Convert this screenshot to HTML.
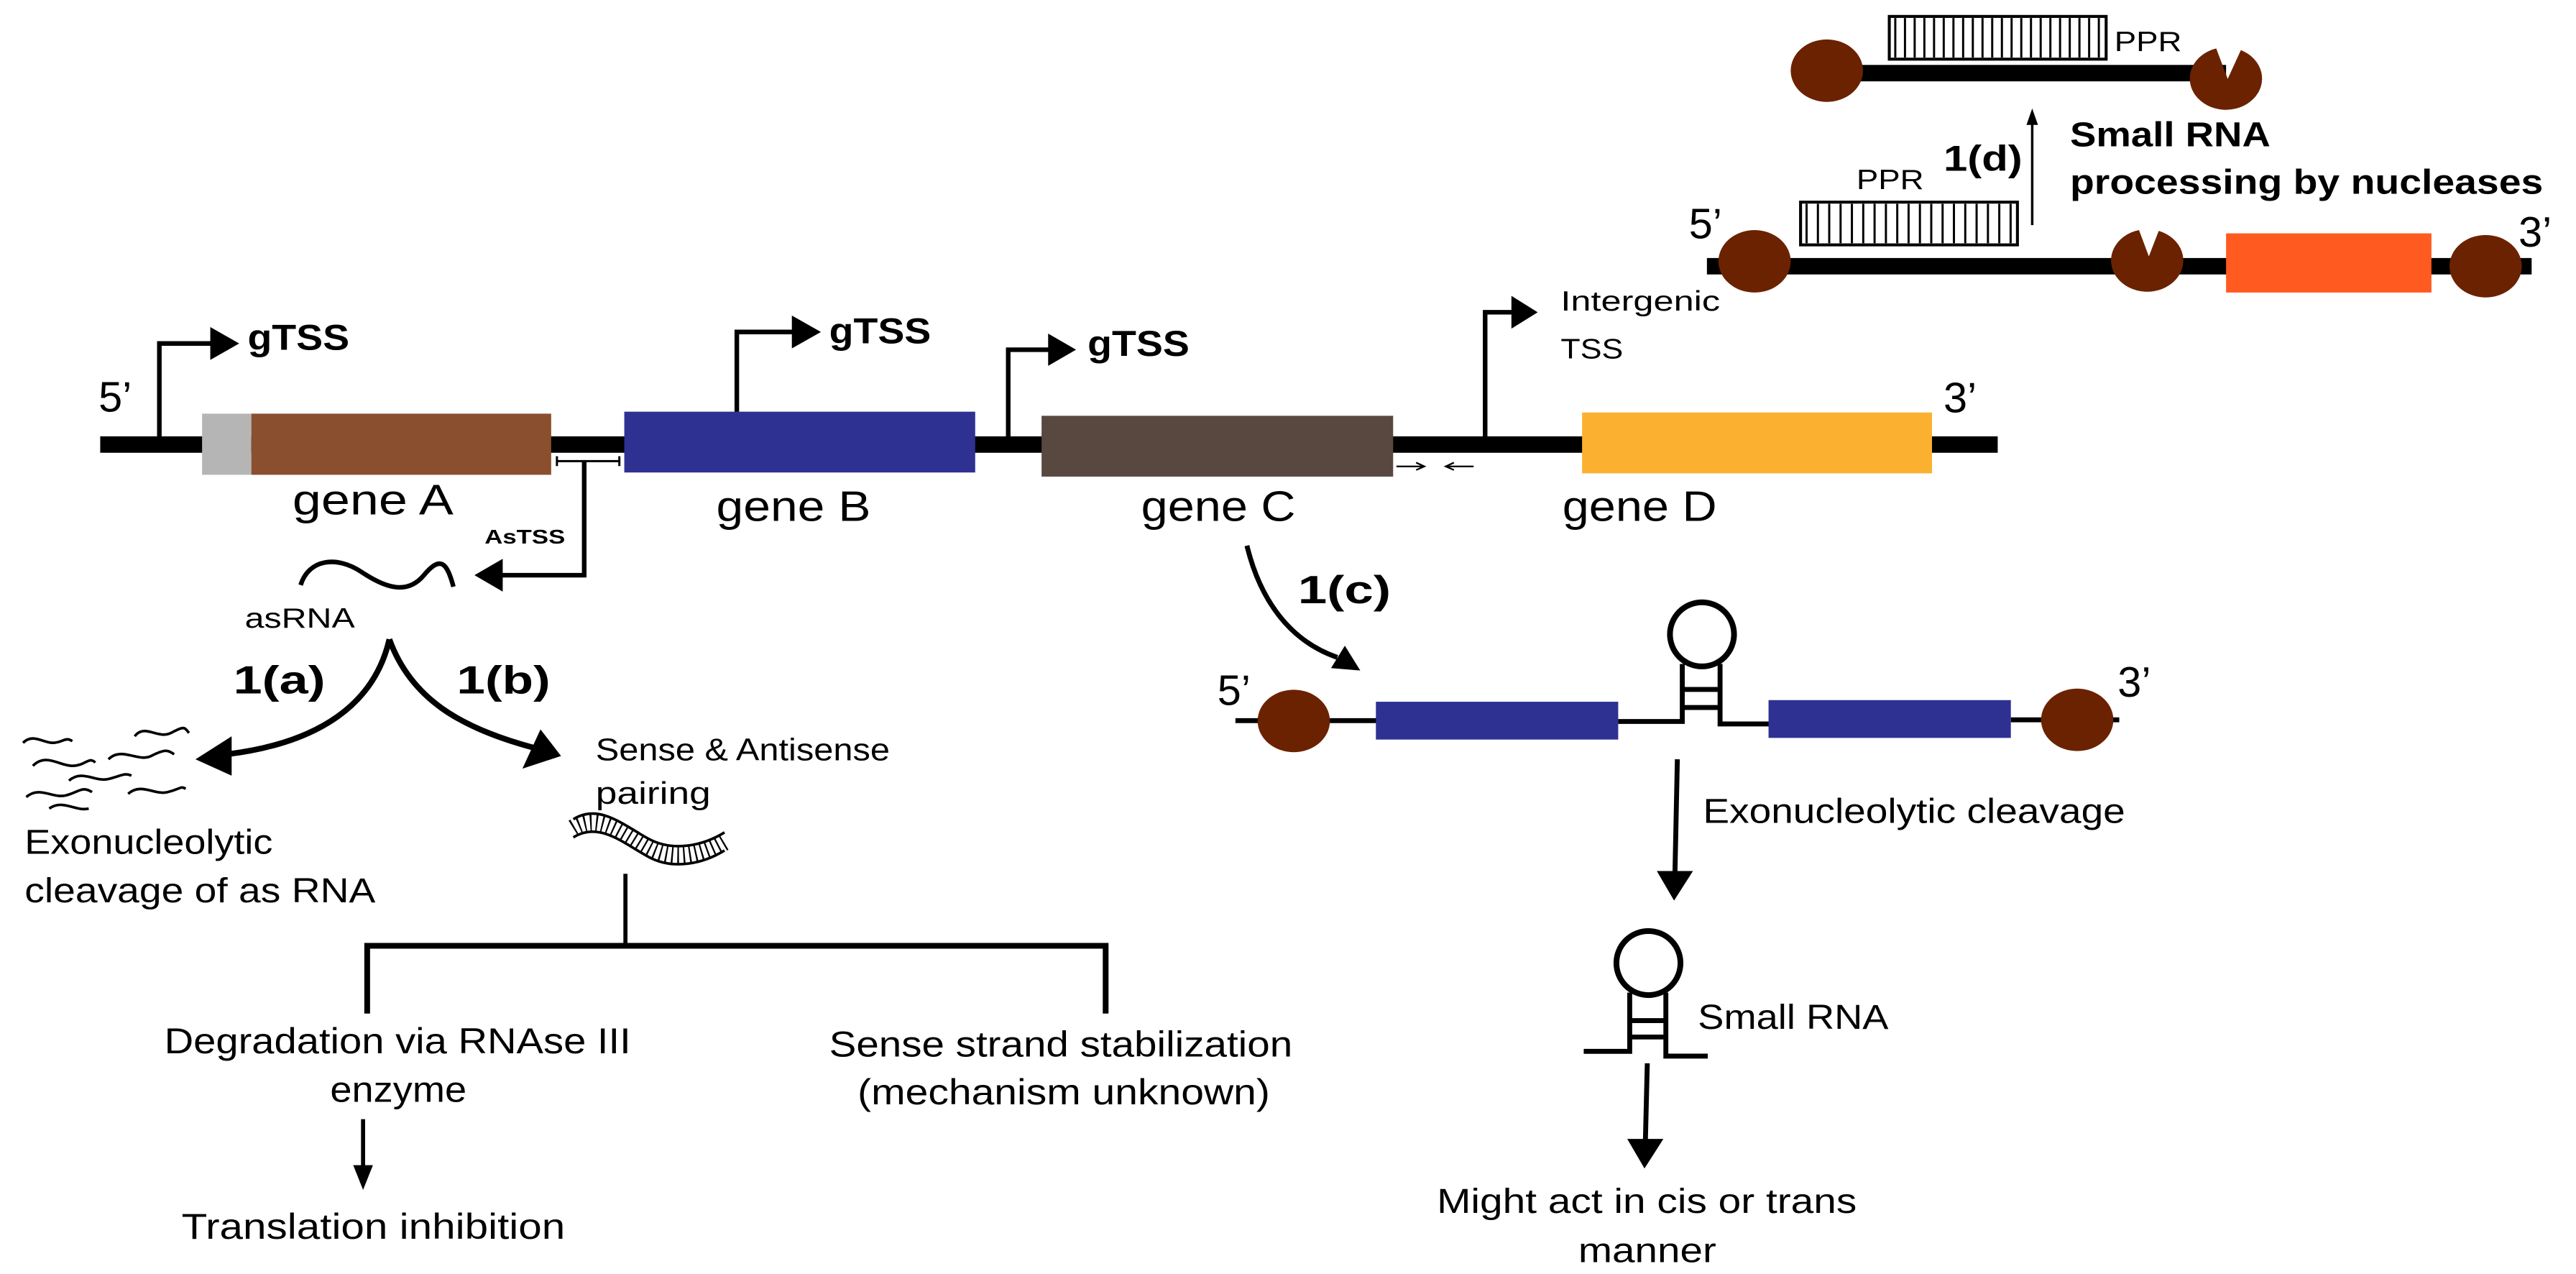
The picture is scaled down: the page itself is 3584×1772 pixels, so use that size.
<!DOCTYPE html>
<html><head><meta charset="utf-8"><style>
html,body{margin:0;padding:0;background:#fff;}
svg{display:block;}
text{font-family:"Liberation Sans",sans-serif;fill:#000;}
.b{font-weight:bold;}
</style></head><body>
<svg width="3584" height="1772" viewBox="0 0 1568 775.2" preserveAspectRatio="none" xmlns="http://www.w3.org/2000/svg">
<rect width="1568" height="775.2" fill="#fff"/>
<!-- main line -->
<rect x="61" y="265.5" width="1155" height="10" fill="#000"/>
<rect x="123" y="251.7" width="30" height="37.2" fill="#b5b5b5"/>
<rect x="153" y="251.7" width="182.5" height="37.2" fill="#8a4f2e"/>
<rect x="380" y="250.5" width="213.6" height="37" fill="#2e3192"/>
<rect x="634" y="253" width="214" height="37" fill="#594840"/>
<rect x="963" y="251" width="213" height="37" fill="#fbb12f"/>
<!-- gTSS arrows -->
<g fill="none" stroke="#000" stroke-width="2.8">
<polyline points="97,270 97,209 130,209"/>
<polyline points="448.5,250.5 448.5,202 484,202"/>
<polyline points="613.7,270 613.7,212.8 640,212.8"/>
<polyline points="904,270 904,190 922,190"/>
</g>
<polygon points="128,199 145.6,209 128,219" fill="#000"/>
<polygon points="482,192 499.7,202 482,212" fill="#000"/>
<polygon points="638,203 655,212.8 638,222.6" fill="#000"/>
<polygon points="920,180 936,190 920,200" fill="#000"/>
<text class="b" x="150.7" y="212.8" font-size="22" textLength="62" lengthAdjust="spacingAndGlyphs">gTSS</text>
<text class="b" x="504.7" y="209" font-size="22" textLength="62" lengthAdjust="spacingAndGlyphs">gTSS</text>
<text class="b" x="662" y="216.5" font-size="22" textLength="62" lengthAdjust="spacingAndGlyphs">gTSS</text>
<text x="950" y="189" font-size="17" textLength="97" lengthAdjust="spacingAndGlyphs">Intergenic</text>
<text x="950" y="218" font-size="17" textLength="38" lengthAdjust="spacingAndGlyphs">TSS</text>
<text x="60" y="250.5" font-size="26">5’</text>
<text x="1183" y="251" font-size="26">3’</text>
<text x="178" y="313" font-size="26" textLength="98" lengthAdjust="spacingAndGlyphs">gene A</text>
<text x="436" y="317" font-size="26" textLength="94" lengthAdjust="spacingAndGlyphs">gene B</text>
<text x="694.6" y="317" font-size="26" textLength="94" lengthAdjust="spacingAndGlyphs">gene C</text>
<text x="951" y="317" font-size="26" textLength="94" lengthAdjust="spacingAndGlyphs">gene D</text>
<!-- small arrows -->
<g stroke="#000" stroke-width="1" fill="none">
<line x1="850" y1="283.8" x2="866" y2="283.8"/><polyline points="862,281.5 867,283.8 862,286"/>
<line x1="881" y1="283.8" x2="897" y2="283.8"/><polyline points="885,281.5 880,283.8 885,286"/>
</g>
<!-- AsTSS -->
<g stroke="#000" fill="none">
<line x1="339" y1="280.6" x2="377" y2="280.6" stroke-width="1.3"/>
<line x1="339" y1="277.6" x2="339" y2="283.6" stroke-width="1.3"/>
<line x1="377" y1="277.6" x2="377" y2="283.6" stroke-width="1.3"/>
<polyline points="355.6,280.6 355.6,350 304,350" stroke-width="2.8"/>
</g>
<polygon points="306,340 288.8,350 306,360" fill="#000"/>
<text class="b" x="295" y="330.8" font-size="12" textLength="49" lengthAdjust="spacingAndGlyphs">AsTSS</text>
<path d="M183,356 C188,340 205,338 220,348 S248,362 258,350 S272,342 276,357" fill="none" stroke="#000" stroke-width="2.8"/>
<text x="149" y="382" font-size="17" textLength="67" lengthAdjust="spacingAndGlyphs">asRNA</text>
<!-- 1a 1b -->
<path d="M237,389 C228,428 195,452 138,459" fill="none" stroke="#000" stroke-width="3.5"/>
<polygon points="119,462 141,448 141,472" fill="#000"/>
<path d="M237,389 C250,425 280,443 325,455" fill="none" stroke="#000" stroke-width="3.5"/>
<polygon points="341.5,460 329,443.8 318,467.7" fill="#000"/>
<text class="b" x="142" y="422" font-size="24" textLength="56" lengthAdjust="spacingAndGlyphs">1(a)</text>
<text class="b" x="278" y="422" font-size="24" textLength="57" lengthAdjust="spacingAndGlyphs">1(b)</text>
<!-- degraded squiggles -->
<g fill="none" stroke="#000" stroke-width="1.6">
<path d="M14,452 C20,446 26,452 32,452 S40,448 44,451"/>
<path d="M20,466 C28,458 36,466 44,466 S54,460 58,464"/>
<path d="M16,485 C24,478 32,486 40,484 S50,478 56,482"/>
<path d="M82,448 C88,440 96,450 104,446 S112,442 115,446"/>
<path d="M66,462 C74,454 84,464 92,460 S102,456 106,459"/>
<path d="M42,475 C50,468 58,476 66,474 S76,470 80,472"/>
<path d="M78,483 C86,476 94,484 102,482 S110,478 113,480"/>
<path d="M30,492 C38,486 46,494 54,492"/>
</g>
<text x="15" y="519.6" font-size="21" textLength="151" lengthAdjust="spacingAndGlyphs">Exonucleolytic</text>
<text x="15" y="549" font-size="21" textLength="213.5" lengthAdjust="spacingAndGlyphs">cleavage of as RNA</text>
<text x="362.6" y="462.6" font-size="19" textLength="179" lengthAdjust="spacingAndGlyphs">Sense &amp; Antisense</text>
<text x="362.6" y="489" font-size="19" textLength="70" lengthAdjust="spacingAndGlyphs">pairing</text>
<!-- ladder -->
<path d="M349,504 C365,494 380,508 395,516 S428,520 441,512" fill="none" stroke="#000" stroke-width="11" stroke-dasharray="1 2.6"/>
<path d="M349,498.5 C365,488.5 380,502.5 395,510.5 S428,514.5 441,506.5" fill="none" stroke="#000" stroke-width="1.6"/>
<path d="M349,509.5 C365,499.5 380,513.5 395,521.5 S428,525.5 441,517.5" fill="none" stroke="#000" stroke-width="1.6"/>
<!-- tree -->
<g fill="none" stroke="#000">
<line x1="380.7" y1="531.7" x2="380.7" y2="575" stroke-width="2.5"/>
<polyline points="223.5,616.7 223.5,575.5 673,575.5 673,616.7" stroke-width="3.5"/>
<line x1="221" y1="681" x2="221" y2="712" stroke-width="2.5"/>
</g>
<polygon points="215,709 227,709 221,724" fill="#000"/>
<text x="100" y="641" font-size="22" textLength="284" lengthAdjust="spacingAndGlyphs">Degradation via RNAse III</text>
<text x="201" y="670.5" font-size="22" textLength="83" lengthAdjust="spacingAndGlyphs">enzyme</text>
<text x="110.5" y="753.8" font-size="22" textLength="233.5" lengthAdjust="spacingAndGlyphs">Translation inhibition</text>
<text x="504.7" y="642.8" font-size="22" textLength="282" lengthAdjust="spacingAndGlyphs">Sense strand stabilization</text>
<text x="522" y="672" font-size="22" textLength="251" lengthAdjust="spacingAndGlyphs">(mechanism unknown)</text>
<!-- 1(c) -->
<path d="M759,332 C767,365 785,390 814,400" fill="none" stroke="#000" stroke-width="3"/>
<polygon points="828,408 810.2,406.5 818.6,392.9" fill="#000"/>
<text class="b" x="790" y="367" font-size="24" textLength="56.6" lengthAdjust="spacingAndGlyphs">1(c)</text>
<!-- RNA 2 -->
<g fill="none" stroke="#000" stroke-width="3">
<line x1="752" y1="438.5" x2="838" y2="438.5"/>
<polyline points="985,439 1024,439 1024,404"/>
<polyline points="1047,404 1047,440.5 1077,440.5"/>
<line x1="1224" y1="438" x2="1290" y2="438"/>
<circle cx="1036" cy="386" r="19.5" stroke-width="3.5"/>
<line x1="1024" y1="419.5" x2="1047" y2="419.5"/>
<line x1="1024" y1="430.5" x2="1047" y2="430.5"/>
</g>
<rect x="837.5" y="427" width="147.5" height="23" fill="#2e3192"/>
<rect x="1076.5" y="426" width="147.5" height="23" fill="#2e3192"/>
<ellipse cx="787.5" cy="438.7" rx="22" ry="19" fill="#6b2200"/>
<ellipse cx="1264.4" cy="438" rx="22" ry="19" fill="#6b2200"/>
<text x="741" y="429" font-size="26">5’</text>
<text x="1289" y="424" font-size="26">3’</text>
<line x1="1021" y1="462" x2="1019.5" y2="533" stroke="#000" stroke-width="3"/>
<polygon points="1008.5,530 1030.5,530 1019,548" fill="#000"/>
<text x="1036.6" y="500.6" font-size="21" textLength="257" lengthAdjust="spacingAndGlyphs">Exonucleolytic cleavage</text>
<!-- small RNA -->
<g fill="none" stroke="#000" stroke-width="3">
<circle cx="1003.4" cy="586" r="19.5" stroke-width="3.5"/>
<polyline points="964,639.7 992,639.7 992,604"/>
<polyline points="1014,604 1014,642.6 1039.5,642.6"/>
<line x1="992" y1="621" x2="1014" y2="621"/>
<line x1="992" y1="631" x2="1014" y2="631"/>
<line x1="1002.7" y1="647" x2="1001.5" y2="696"/>
</g>
<polygon points="990.5,693 1012.5,693 1001,711" fill="#000"/>
<text x="1033.5" y="626" font-size="21" textLength="116" lengthAdjust="spacingAndGlyphs">Small RNA</text>
<text x="874.6" y="738" font-size="21" textLength="255.6" lengthAdjust="spacingAndGlyphs">Might act in cis or trans</text>
<text x="1002.7" y="768" font-size="21" text-anchor="middle" textLength="84" lengthAdjust="spacingAndGlyphs">manner</text>
<!-- top right: middle molecule -->
<rect x="1039" y="157" width="502" height="10" fill="#000"/>
<rect x="1355" y="142" width="125" height="36" fill="#ff5a1f"/>
<ellipse cx="1068" cy="159" rx="22" ry="19" fill="#6b2200"/>
<ellipse cx="1513" cy="162" rx="22" ry="19" fill="#6b2200"/>
<path d="M1302,140 L1308,156 L1314,140.5 A22,19 0 1 1 1302,140 Z" fill="#6b2200"/>
<text x="1028" y="145" font-size="26">5’</text>
<text x="1533" y="150" font-size="26">3’</text>
<rect x="1096" y="123" width="132" height="26" fill="#fff" stroke="#000" stroke-width="1.8"/>
<line x1="1099" y1="136" x2="1226" y2="136" stroke="#000" stroke-width="24" stroke-dasharray="1.3 5.6"/>
<text x="1130" y="115" font-size="17" textLength="41" lengthAdjust="spacingAndGlyphs">PPR</text>
<line x1="1237" y1="137" x2="1237" y2="74" stroke="#000" stroke-width="1.5"/>
<polygon points="1233.5,76 1240.5,76 1237,66" fill="#000"/>
<text class="b" x="1183" y="104" font-size="22" textLength="48" lengthAdjust="spacingAndGlyphs">1(d)</text>
<text class="b" x="1260" y="89" font-size="21" textLength="122" lengthAdjust="spacingAndGlyphs">Small RNA</text>
<text class="b" x="1260" y="118" font-size="21" textLength="288" lengthAdjust="spacingAndGlyphs">processing by nucleases</text>
<!-- top molecule -->
<rect x="1112" y="39.5" width="243" height="10" fill="#000"/>
<ellipse cx="1112" cy="43" rx="22" ry="19" fill="#6b2200"/>
<path d="M1349,29.5 L1356,48 L1364,30.5 A22,19 0 1 1 1349,29.5 Z" fill="#6b2200"/>
<rect x="1150" y="10" width="132" height="26" fill="#fff" stroke="#000" stroke-width="1.8"/>
<line x1="1153" y1="23" x2="1280" y2="23" stroke="#000" stroke-width="24" stroke-dasharray="1.3 4.6"/>
<text x="1287" y="31" font-size="17" textLength="41" lengthAdjust="spacingAndGlyphs">PPR</text>
</svg>
</body></html>
